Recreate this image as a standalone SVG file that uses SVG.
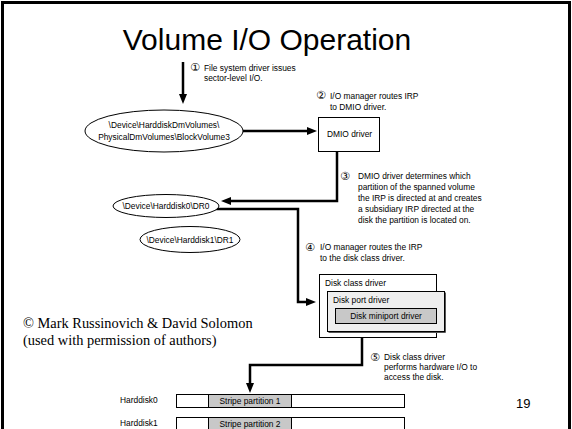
<svg xmlns="http://www.w3.org/2000/svg" width="572" height="429" viewBox="0 0 572 429">
<style>
.title{font-family:"Liberation Sans",Arial,sans-serif;font-size:30px;fill:#000}
.t{font-family:"Liberation Sans",Arial,sans-serif;font-size:8.4px;fill:#000}
.n{font-family:"DejaVu Sans","Liberation Sans",sans-serif;font-size:11px;fill:#000}
.cr{font-family:"Liberation Serif","Times New Roman",serif;font-size:14.4px;fill:#000}
.box{fill:#fff;stroke:#000;stroke-width:1}
.ell{fill:#fff;stroke:#000;stroke-width:1}
.con{fill:none;stroke:#000;stroke-width:2.5}
.gray{fill:#c8c8c8;stroke:#000;stroke-width:1}
.shadow{fill:none;stroke:#555;stroke-width:1}
</style>
<defs>
<marker id="ah" viewBox="0 0 10 8" refX="4" refY="4" markerWidth="10" markerHeight="8" markerUnits="userSpaceOnUse" orient="auto">
<path d="M0,0 L10,4 L0,8 z" fill="#000"/>
</marker>
</defs>
<rect x="0" y="0" width="572" height="429" fill="#fff"/>
<rect x="2.5" y="2.5" width="567" height="450" fill="none" stroke="#000" stroke-width="3"/>
<text class="title" x="267" y="50" text-anchor="middle">Volume I/O Operation</text>

<g id="connectors">
<path class="con" d="M183,62 V98" stroke-width="2" marker-end="url(#ah)"/>
<path class="con" d="M243,131 H311" marker-end="url(#ah)"/>
<path class="con" d="M337,152 V201 H227" marker-end="url(#ah)"/>
<path class="con" d="M213,209 H298 V302 H310" marker-end="url(#ah)"/>
<path class="con" d="M362,338 V365 H250 V387" marker-end="url(#ah)"/>
</g>

<g id="step1">
<text class="n" x="190" y="71">①</text>
<text class="t" x="204" y="71">File system driver issues</text>
<text class="t" x="204" y="81">sector-level I/O.</text>
</g>
<g id="step2">
<text class="n" x="316" y="99">②</text>
<text class="t" x="330" y="99">I/O manager routes IRP</text>
<text class="t" x="330" y="110">to DMIO driver.</text>
</g>
<g id="step3">
<text class="n" x="340" y="180">③</text>
<text class="t" x="358" y="179">DMIO driver determines which</text>
<text class="t" x="358" y="190">partition of the spanned volume</text>
<text class="t" x="358" y="201">the IRP is directed at and creates</text>
<text class="t" x="358" y="212">a subsidiary IRP directed at the</text>
<text class="t" x="358" y="223">disk the partition is located on.</text>
</g>
<g id="step4">
<text class="n" x="305" y="251">④</text>
<text class="t" x="320" y="250">I/O manager routes the IRP</text>
<text class="t" x="320" y="261">to the disk class driver.</text>
</g>
<g id="step5">
<text class="n" x="370" y="361">⑤</text>
<text class="t" x="384" y="360">Disk class driver</text>
<text class="t" x="384" y="370">performs hardware I/O to</text>
<text class="t" x="384" y="380">access the disk.</text>
</g>

<g id="volume">
<ellipse class="ell" cx="164" cy="131" rx="79" ry="21"/>
<text class="t" x="164" y="128" text-anchor="middle">\Device\HarddiskDmVolumes\</text>
<text class="t" x="164" y="140" text-anchor="middle">PhysicalDmVolumes\BlockVolume3</text>
</g>
<g id="dmio">
<rect class="box" x="318.5" y="117.5" width="61" height="34"/>
<text class="t" x="327" y="137">DMIO driver</text>
</g>
<g id="dr0">
<ellipse class="ell" cx="166" cy="206" rx="53" ry="11.5"/>
<text class="t" x="166" y="209" text-anchor="middle">\Device\Harddisk0\DR0</text>
</g>
<g id="dr1">
<ellipse class="ell" cx="190" cy="239.5" rx="50" ry="13"/>
<text class="t" x="190" y="242.5" text-anchor="middle">\Device\Harddisk1\DR1</text>
</g>
<g id="diskclass">
<rect class="box" x="319.5" y="274.5" width="117" height="63"/>
<text class="t" x="325" y="286">Disk class driver</text>
</g>
<g id="diskport">
<path class="shadow" d="M445.5,292.5 V332.5 H328.5"/>
<rect x="327.5" y="291.5" width="117" height="40" fill="#eeeeee" stroke="#000" stroke-width="1"/>
<text class="t" x="333" y="303">Disk port driver</text>
</g>
<g id="miniport">
<rect class="gray" x="335.5" y="308.5" width="101" height="15"/>
<text class="t" x="386" y="319" text-anchor="middle">Disk miniport driver</text>
</g>

<g id="copyright">
<text class="cr" x="23" y="328">© Mark Russinovich &amp; David Solomon</text>
<text class="cr" x="23" y="345">(used with permission of authors)</text>
</g>

<g id="harddisk0">
<text class="t" x="120" y="403">Harddisk0</text>
<rect class="box" x="176.5" y="394.5" width="228" height="13"/>
<rect class="gray" x="208.5" y="394.5" width="83" height="13"/>
<text class="t" x="250" y="404" text-anchor="middle">Stripe partition 1</text>
</g>
<g id="harddisk1">
<text class="t" x="120" y="426">Harddisk1</text>
<rect class="box" x="176.5" y="417.5" width="228" height="13"/>
<rect class="gray" x="208.5" y="417.5" width="83" height="13"/>
<text class="t" x="250" y="427" text-anchor="middle">Stripe partition 2</text>
</g>
<text x="516" y="408" font-family="Liberation Sans,Arial,sans-serif" font-size="13">19</text>
</svg>
